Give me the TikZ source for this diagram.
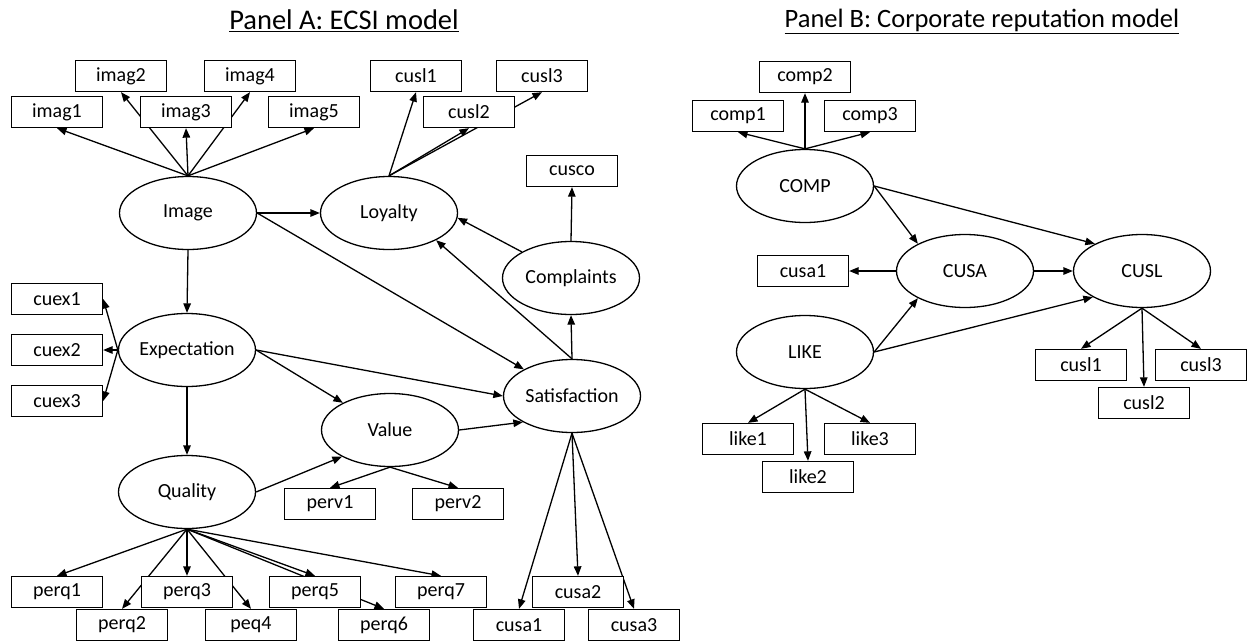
\documentclass[tikz,border=0pt]{standalone}
\usepackage{fontspec}
\setmainfont{Carlito}
\usetikzlibrary{arrows.meta,shapes.geometric,backgrounds}

\begin{document}
\begin{tikzpicture}[x=1pt,y=-1pt,
  lat/.style={draw,ellipse,line width=1.3pt,fill=white,minimum width=137pt,minimum height=73pt,inner sep=0pt,font=\fontsize{20}{22}\selectfont},
  ind/.style={draw,rectangle,line width=1.3pt,fill=white,minimum width=91pt,minimum height=31pt,inner sep=0pt,font=\fontsize{20}{22}\selectfont},
  arr/.style={line width=1.3pt,-{Triangle[length=9.5pt,width=7.5pt]}},
  ttl/.style={inner sep=0pt,font=\fontsize{28.5}{32}\selectfont}
]
\useasboundingbox (0,0) rectangle (1248,643);

% ---------- titles ----------
\node[ttl] (ta) at (344,21) {\underline{Panel A: ECSI model}};
\node[ttl,font=\fontsize{26.5}{30}\selectfont] (tb) at (982,21) {\underline{Panel B: Corporate reputation model}};

% ---------- Panel A: latent variables ----------
\node[lat] (img)   at (188,213) {Image};
\node[lat] (loy)   at (389,213) {Loyalty};
\node[lat] (compl) at (571,278) {Complaints};
\node[lat] (exq)   at (187,350) {Expectation};
\node[lat] (val)   at (390,430) {Value};
\node[lat] (sat)   at (572,396) {Satisfaction};
\node[lat] (qual)  at (187,492) {Quality};

% ---------- Panel A: indicators ----------
\node[ind] (imag1) at (57,112)  {imag1};
\node[ind] (imag2) at (121,76)  {imag2};
\node[ind] (imag4) at (250,76)  {imag4};
\node[ind] (imag3) at (186,112) {imag3};
\node[ind] (imag5) at (314,112) {imag5};
\node[ind] (cusl1) at (416,76)  {cusl1};
\node[ind] (cusl3) at (542,76)  {cusl3};
\node[ind] (cusl2) at (469,112) {cusl2};
\node[ind] (cusco) at (572,171) {cusco};
\node[ind] (cuex1) at (57,299)  {cuex1};
\node[ind] (cuex2) at (57,350)  {cuex2};
\node[ind] (cuex3) at (57,401)  {cuex3};
\node[ind] (perv1) at (330,504) {perv1};
\node[ind] (perv2) at (458,504) {perv2};
\node[ind] (perq2) at (122,625) {perq2};
\node[ind] (peq4)  at (251,625) {peq4};
\node[ind] (perq6) at (384,625) {perq6};
\node[ind] (cusa1) at (519,625) {cusa1};
\node[ind] (cusa3) at (634,625) {cusa3};
\node[ind] (perq1) at (57,592)  {perq1};
\node[ind] (perq3) at (187,592) {perq3};
\node[ind] (perq5) at (315,592) {perq5};
\node[ind] (perq7) at (441,592) {perq7};
\node[ind] (cusa2) at (578,592) {cusa2};

% ---------- Panel B: latent variables ----------
\node[lat] (bcomp) at (805,186) {COMP};
\node[lat] (bcusa) at (965,271) {CUSA};
\node[lat] (bcusl) at (1142,271) {CUSL};
\node[lat] (blike) at (805,352) {LIKE};

% ---------- Panel B: indicators ----------
\node[ind] (comp2)  at (805,77)   {comp2};
\node[ind] (comp1)  at (738,116)  {comp1};
\node[ind] (comp3)  at (870,116)  {comp3};
\node[ind] (bcusa1) at (803,271)  {cusa1};
\node[ind] (like1)  at (748,439)  {like1};
\node[ind] (like3)  at (870,439)  {like3};
\node[ind] (like2)  at (808,477)  {like2};
\node[ind] (bcusl1) at (1081,365) {cusl1};
\node[ind] (bcusl3) at (1201,365) {cusl3};
\node[ind] (bcusl2) at (1144,403) {cusl2};

\begin{scope}[on background layer]
  % Panel A: measurement paths
  \foreach \t in {imag1,imag2,imag3,imag4,imag5}
    \draw[arr] (img.north) -- (\t.south);
  \foreach \t in {cusl1,cusl2,cusl3}
    \draw[arr] (loy.north) -- (\t.south);
  \foreach \t in {cuex1,cuex2,cuex3}
    \draw[arr] (exq.west) -- (\t.east);
  \foreach \t in {perq1,perq2,perq3,peq4,perq5,perq6,perq7}
    \draw[arr] (qual.south) -- (\t.north);
  \foreach \t in {perv1,perv2}
    \draw[arr] (val.south) -- (\t.north);
  \foreach \t in {cusa1,cusa2,cusa3}
    \draw[arr] (sat.south) -- (\t.north);
  \draw[arr] (compl.north) -- (cusco.south);

  % Panel A: structural paths
  \draw[arr] (img.east) -- (loy.west);
  \draw[arr] (img.east) -- (sat.151);
  \draw[arr] (img.south) -- (exq.north);
  \draw[arr] (exq.east) -- (sat.west);
  \draw[arr] (exq.east) -- (val.150);
  \draw[arr] (exq.south) -- (qual.north);
  \draw[arr] (qual.east) -- (val.209);
  \draw[arr] (val.east) -- (sat.208);
  \draw[arr] (sat.north) -- (compl.south);
  \draw[arr] (sat.north) -- (loy.-30);
  \draw[arr] (compl.152) -- (loy.-4);

  % Panel B: measurement paths
  \foreach \t in {comp1,comp2,comp3}
    \draw[arr] (bcomp.north) -- (\t.south);
  \foreach \t in {like1,like2,like3}
    \draw[arr] (blike.south) -- (\t.north);
  \foreach \t in {bcusl1,bcusl2,bcusl3}
    \draw[arr] (bcusl.south) -- (\t.north);
  \draw[arr] (bcusa.west) -- (bcusa1.east);

  % Panel B: structural paths
  \draw[arr] (bcomp.east) -- (bcusa.150);
  \draw[arr] (bcomp.east) -- (bcusl.150);
  \draw[arr] (bcusa.east) -- (bcusl.west);
  \draw[arr] (blike.east) -- (bcusa.210);
  \draw[arr] (blike.east) -- (bcusl.208);
\end{scope}
\end{tikzpicture}
\end{document}
